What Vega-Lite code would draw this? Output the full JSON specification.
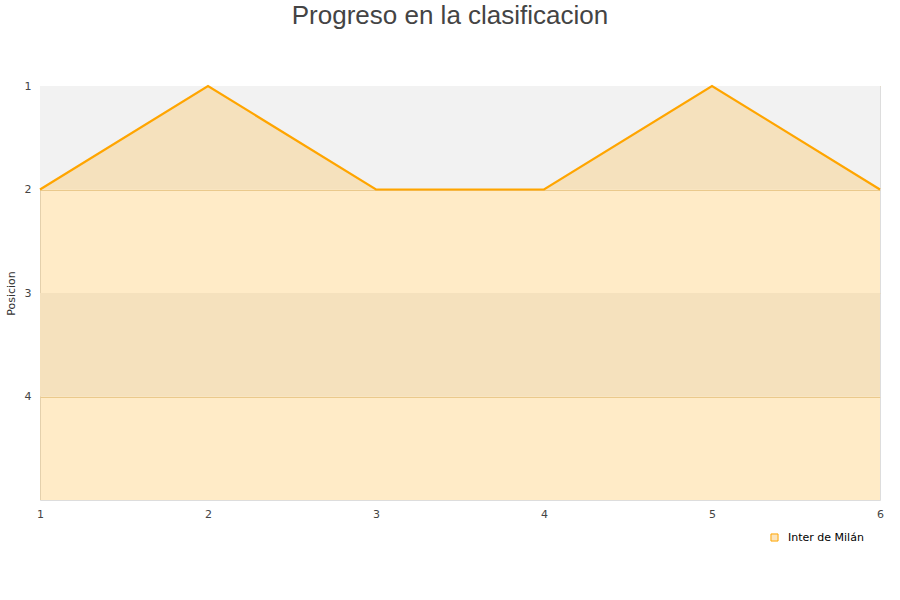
{
  "$schema": "https://vega.github.io/schema/vega-lite/v6.json",
  "width": 840,
  "height": 414,
  "autosize": {"type": "none"},
  "padding": {"left": 40, "top": 86, "right": 20, "bottom": 100},
  "background": "white",
  "title": {
    "text": "Progreso en la clasificacion",
    "fontSize": 26,
    "font": "Liberation Sans",
    "fontWeight": "normal",
    "color": "#444444",
    "anchor": "middle",
    "dx": -10,
    "offset": 51
  },
  "config": {
    "view": {"stroke": "#dddddd", "strokeWidth": 1},
    "axis": {
      "labelFont": "DejaVu Sans",
      "labelFontSize": 11,
      "labelColor": "#444444",
      "titleFont": "DejaVu Sans",
      "titleFontSize": 11,
      "titleFontWeight": "normal",
      "titleColor": "#333333",
      "domain": false,
      "ticks": false
    }
  },
  "datasets": {
    "progreso": [
      {"jornada": 1, "posicion": 2, "equipo": "Inter de Milán"},
      {"jornada": 2, "posicion": 1, "equipo": "Inter de Milán"},
      {"jornada": 3, "posicion": 2, "equipo": "Inter de Milán"},
      {"jornada": 4, "posicion": 2, "equipo": "Inter de Milán"},
      {"jornada": 5, "posicion": 1, "equipo": "Inter de Milán"},
      {"jornada": 6, "posicion": 2, "equipo": "Inter de Milán"}
    ],
    "bandas": [
      {"desde": 1, "hasta": 2},
      {"desde": 3, "hasta": 4}
    ]
  },
  "layer": [
    {
      "data": {"name": "bandas"},
      "mark": {"type": "rect", "fill": "#f2f2f2"},
      "encoding": {
        "y": {"field": "desde", "type": "quantitative", "scale": {"domain": [1, 5], "reverse": true, "nice": false}},
        "y2": {"field": "hasta"}
      }
    },
    {
      "data": {"name": "progreso"},
      "mark": {"type": "area", "fill": "#ffa500", "fillOpacity": 0.22},
      "encoding": {
        "x": {
          "field": "jornada",
          "type": "quantitative",
          "scale": {"domain": [1, 6], "nice": false, "zero": false},
          "axis": {"values": [1, 2, 3, 4, 5, 6], "format": "d", "grid": false, "title": null, "labelPadding": 8, "labelFlush": false}
        },
        "y": {
          "field": "posicion",
          "type": "quantitative",
          "scale": {"domain": [1, 5], "reverse": true, "nice": false, "zero": false},
          "axis": {"values": [1, 2, 3, 4], "format": "d", "title": "Posicion", "grid": true, "gridColor": "#e4d4b4", "labelPadding": 9, "titlePadding": 8}
        },
        "y2": {"datum": 5}
      }
    },
    {
      "data": {"name": "progreso"},
      "mark": {"type": "line", "strokeWidth": 2.2},
      "encoding": {
        "x": {"field": "jornada", "type": "quantitative"},
        "y": {"field": "posicion", "type": "quantitative"},
        "color": {
          "field": "equipo",
          "type": "nominal",
          "scale": {"range": ["#ffa500"]},
          "legend": {
            "title": null,
            "orient": "none",
            "legendX": 727,
            "legendY": 446,
            "symbolType": "square",
            "symbolSize": 50,
            "symbolFillColor": "#fbe4bd",
            "symbolStrokeColor": "#6b4a10",
            "symbolStrokeWidth": 1,
            "symbolOffset": 2,
            "labelOffset": 8,
            "labelFont": "DejaVu Sans",
            "labelFontSize": 11,
            "labelColor": "#000000",
            "encode": {
              "symbols": {
                "update": {
                  "fill": {"value": "#fbe4bd"},
                  "stroke": {"value": "#6b4a10"},
                  "strokeWidth": {"value": 1}
                }
              }
            }
          }
        }
      }
    }
  ]
}
